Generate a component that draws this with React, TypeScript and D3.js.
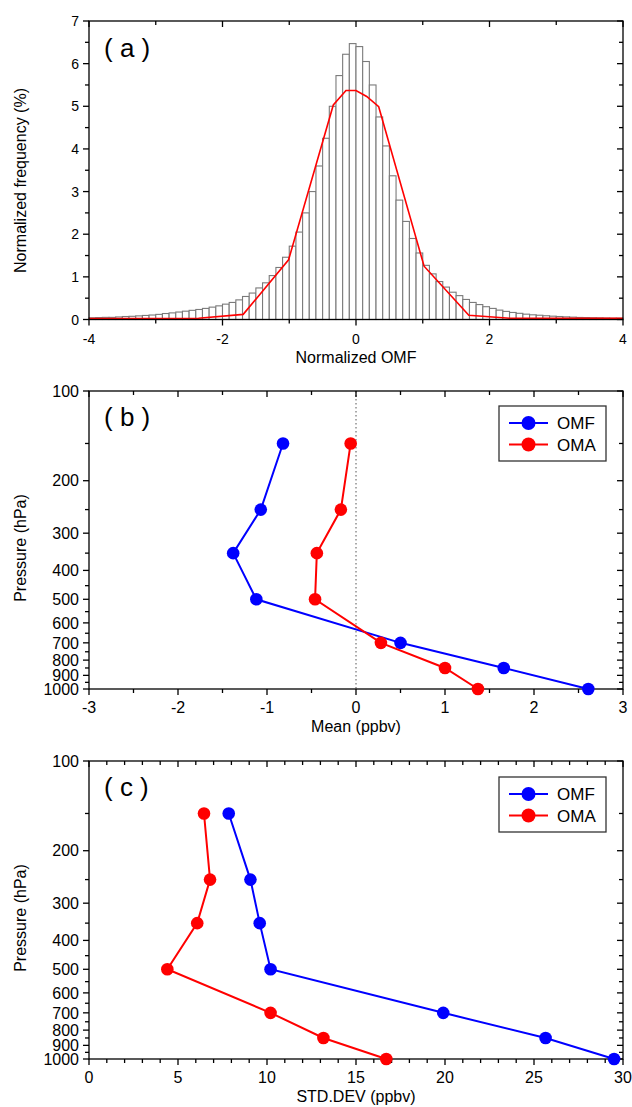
import React from "react";
import * as d3 from "d3";

// ---------- Panel (a): histogram of normalized OMF ----------
const histStart = -4;
const histBinWidth = 0.1;
const histFreq = [
  0.04, 0.045, 0.05, 0.05, 0.06, 0.07, 0.075, 0.085, 0.095, 0.105,
  0.12, 0.14, 0.155, 0.175, 0.195, 0.215, 0.235, 0.26, 0.29, 0.32,
  0.36, 0.4, 0.46, 0.54, 0.62, 0.74, 0.86, 1.03, 1.22, 1.46,
  1.72, 2.05, 2.5, 3.0, 3.6, 4.25, 5.0, 5.72, 6.22, 6.47,
  6.4, 6.05, 5.5, 4.75, 4.07, 3.37, 2.8, 2.3, 1.9, 1.56,
  1.27, 1.07, 0.89, 0.76, 0.64, 0.56, 0.47, 0.4, 0.35, 0.3,
  0.26, 0.22, 0.19, 0.165, 0.145, 0.125, 0.11, 0.1, 0.088, 0.078,
  0.07, 0.062, 0.055, 0.048, 0.045, 0.04, 0.038, 0.034, 0.03, 0.03,
];
const fitX = [-4, -2.36, -1.69, -1.01, -0.34, -0.15, 0.0, 0.16, 0.34, 1.02, 1.69, 2.3, 4];
const fitY = [0.02, 0.03, 0.12, 1.4, 5.03, 5.37, 5.37, 5.23, 4.99, 1.25, 0.1, 0.03, 0.03];

const aXTicks = [-4, -2, 0, 2, 4];
const aXMinor = [-3, -1, 1, 3];
const aYTicks = [0, 1, 2, 3, 4, 5, 6, 7];
const aYMinor = [0.5, 1.5, 2.5, 3.5, 4.5, 5.5, 6.5];

// ---------- Panels (b),(c): vertical profiles ----------
const levels = [150, 250, 350, 500, 700, 850, 1000];
const meanOMF = [-0.82, -1.07, -1.38, -1.12, 0.5, 1.66, 2.61];
const meanOMA = [-0.06, -0.17, -0.44, -0.46, 0.28, 1.0, 1.37];
const stdOMF = [7.85, 9.07, 9.59, 10.2, 19.9, 25.65, 29.5];
const stdOMA = [6.46, 6.8, 6.08, 4.4, 10.2, 13.17, 16.7];

const pTicks = [100, 200, 300, 400, 500, 600, 700, 800, 900, 1000];
const pMinor = [150, 250, 350, 450, 550, 650, 750, 850, 950];
const bXTicks = [-3, -2, -1, 0, 1, 2, 3];
const bXMinor = [-2.5, -1.5, -0.5, 0.5, 1.5, 2.5];
const cXTicks = [0, 5, 10, 15, 20, 25, 30];
const cXMinor = [1, 2, 3, 4, 6, 7, 8, 9, 11, 12, 13, 14, 16, 17, 18, 19, 21, 22, 23, 24, 26, 27, 28, 29];

const seriesNames = ["OMF", "OMA"];
const seriesColors = ["#0000ff", "#ff0000"];

const FONT = "'Liberation Sans', Arial, Helvetica, sans-serif";
const LEFT = 89;
const RIGHT = 623;

type FrameProps = {
  x: any;
  y: any;
  top: number;
  bottom: number;
  xt: number[];
  xm: number[];
  yt: number[];
  ym: number[];
  fs: number;
};

function Frame({ x, y, top, bottom, xt, xm, yt, ym, fs }: FrameProps) {
  const MJ = 6;
  const MN = 4;
  const sw = 1.3;
  return (
    <g>
      <rect x={LEFT} y={top} width={RIGHT - LEFT} height={bottom - top} fill="none" stroke="#000" strokeWidth={sw} />
      {/* bottom (outward) + top (inward) */}
      {xt.map((v) => (
        <g key={"xt" + v}>
          <line x1={x(v)} x2={x(v)} y1={bottom} y2={bottom + MJ} stroke="#000" strokeWidth={sw} />
          <line x1={x(v)} x2={x(v)} y1={top} y2={top + MJ} stroke="#000" strokeWidth={sw} />
          <text x={x(v)} y={bottom + 24} fontSize={fs} textAnchor="middle" fontFamily={FONT}>
            {String(v)}
          </text>
        </g>
      ))}
      {xm.map((v) => (
        <g key={"xm" + v}>
          <line x1={x(v)} x2={x(v)} y1={bottom} y2={bottom + MN} stroke="#000" strokeWidth={sw} />
          <line x1={x(v)} x2={x(v)} y1={top} y2={top + MN} stroke="#000" strokeWidth={sw} />
        </g>
      ))}
      {/* left (outward) + right (inward) */}
      {yt.map((v) => (
        <g key={"yt" + v}>
          <line x1={LEFT - MJ} x2={LEFT} y1={y(v)} y2={y(v)} stroke="#000" strokeWidth={sw} />
          <line x1={RIGHT - MJ} x2={RIGHT} y1={y(v)} y2={y(v)} stroke="#000" strokeWidth={sw} />
          <text x={LEFT - 10} y={y(v)} dy="0.36em" fontSize={fs} textAnchor="end" fontFamily={FONT}>
            {String(v)}
          </text>
        </g>
      ))}
      {ym.map((v) => (
        <g key={"ym" + v}>
          <line x1={LEFT - MN} x2={LEFT} y1={y(v)} y2={y(v)} stroke="#000" strokeWidth={sw} />
          <line x1={RIGHT - MN} x2={RIGHT} y1={y(v)} y2={y(v)} stroke="#000" strokeWidth={sw} />
        </g>
      ))}
    </g>
  );
}

function Legend({ top }: { top: number }) {
  const bx = 499;
  const bw = 107;
  const bh = 55;
  return (
    <g>
      <rect x={bx} y={top} width={bw} height={bh} fill="#fff" stroke="#333" strokeWidth={1.3} />
      {seriesNames.map((name, i) => {
        const cy = top + 17 + i * 21.5;
        return (
          <g key={name}>
            <line x1={509} x2={548} y1={cy} y2={cy} stroke={seriesColors[i]} strokeWidth={2} />
            <circle cx={528.5} cy={cy} r={7} fill={seriesColors[i]} />
            <text x={557} y={cy} dy="0.36em" fontSize={17} fontFamily={FONT}>
              {name}
            </text>
          </g>
        );
      })}
    </g>
  );
}

function Profile({ x, y, vals, color }: { x: any; y: any; vals: number[]; color: string }) {
  const pts = levels.map((p, i) => [x(vals[i]), y(p)] as [number, number]);
  const path = d3.line()(pts) || "";
  return (
    <g>
      <path d={path} fill="none" stroke={color} strokeWidth={2} />
      {pts.map((pt, i) => (
        <circle key={i} cx={pt[0]} cy={pt[1]} r={6.3} fill={color} />
      ))}
    </g>
  );
}

export default function App() {
  // Panel a
  const aTop = 21;
  const aBottom = 319.5;
  const ax = d3.scaleLinear().domain([-4, 4]).range([LEFT, RIGHT]);
  const ay = d3.scaleLinear().domain([0, 7]).range([aBottom, aTop]);
  const fitPath =
    d3
      .line<number>()
      .x((_, i) => ax(fitX[i]))
      .y((d) => ay(d))(fitY) || "";

  // Panel b
  const bTop = 391;
  const bBottom = 689;
  const bx = d3.scaleLinear().domain([-3, 3]).range([LEFT, RIGHT]);
  const by = d3.scaleLog().domain([100, 1000]).range([bTop, bBottom]);

  // Panel c
  const cTop = 761;
  const cBottom = 1059;
  const cx = d3.scaleLinear().domain([0, 30]).range([LEFT, RIGHT]);
  const cy = d3.scaleLog().domain([100, 1000]).range([cTop, cBottom]);

  return (
    <svg
      width={632}
      height={1107}
      viewBox="0 0 632 1107"
      style={{ position: "absolute", left: 0, top: 0, background: "#fff" }}
      fontFamily={FONT}
    >
      <rect x={0} y={0} width={632} height={1107} fill="#fff" />

      {/* ---------------- (a) ---------------- */}
      <g>
        {histFreq.map((f, i) => {
          const x0 = ax(histStart + i * histBinWidth);
          const x1 = ax(histStart + (i + 1) * histBinWidth);
          return (
            <rect
              key={i}
              x={x0}
              y={ay(f)}
              width={x1 - x0}
              height={ay(0) - ay(f)}
              fill="#fff"
              stroke="#7a7a7a"
              strokeWidth={1.1}
            />
          );
        })}
        <path d={fitPath} fill="none" stroke="#ff0000" strokeWidth={1.6} />
        <Frame x={ax} y={ay} top={aTop} bottom={aBottom} xt={aXTicks} xm={aXMinor} yt={aYTicks} ym={aYMinor} fs={14} />
        <text x={104} y={aTop + 35.5} fontSize={26} fontFamily={FONT}>
          ( a )
        </text>
        <text x={356} y={363} fontSize={16} textAnchor="middle" fontFamily={FONT}>
          Normalized OMF
        </text>
        <text transform="translate(26,180.5) rotate(-90)" fontSize={16} textAnchor="middle" fontFamily={FONT}>
          Normalized frequency (%)
        </text>
      </g>

      {/* ---------------- (b) ---------------- */}
      <g>
        <line x1={bx(0)} x2={bx(0)} y1={bTop} y2={bBottom} stroke="#555" strokeWidth={1} strokeDasharray="1.5,2.5" />
        <Frame x={bx} y={by} top={bTop} bottom={bBottom} xt={bXTicks} xm={bXMinor} yt={pTicks} ym={pMinor} fs={16} />
        <Profile x={bx} y={by} vals={meanOMF} color={seriesColors[0]} />
        <Profile x={bx} y={by} vals={meanOMA} color={seriesColors[1]} />
        <Legend top={bTop + 15} />
        <text x={104} y={bTop + 35} fontSize={26} fontFamily={FONT}>
          ( b )
        </text>
        <text x={356} y={732} fontSize={16} textAnchor="middle" fontFamily={FONT}>
          Mean (ppbv)
        </text>
        <text transform="translate(26,548) rotate(-90)" fontSize={16} textAnchor="middle" fontFamily={FONT}>
          Pressure (hPa)
        </text>
      </g>

      {/* ---------------- (c) ---------------- */}
      <g>
        <Frame x={cx} y={cy} top={cTop} bottom={cBottom} xt={cXTicks} xm={cXMinor} yt={pTicks} ym={pMinor} fs={16} />
        <Profile x={cx} y={cy} vals={stdOMF} color={seriesColors[0]} />
        <Profile x={cx} y={cy} vals={stdOMA} color={seriesColors[1]} />
        <Legend top={cTop + 16} />
        <text x={104} y={cTop + 35} fontSize={26} fontFamily={FONT}>
          ( c )
        </text>
        <text x={356} y={1102} fontSize={16} textAnchor="middle" fontFamily={FONT}>
          STD.DEV (ppbv)
        </text>
        <text transform="translate(26,918) rotate(-90)" fontSize={16} textAnchor="middle" fontFamily={FONT}>
          Pressure (hPa)
        </text>
      </g>
    </svg>
  );
}
